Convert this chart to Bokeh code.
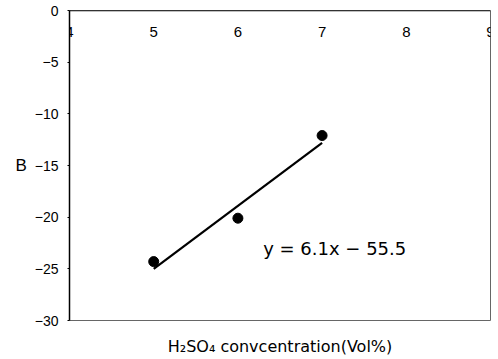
from bokeh.plotting import figure
from bokeh.models import LinearAxis, Range1d, FixedTicker, Label
from bokeh.embed import file_html
from bokeh.resources import INLINE

# H2SO4 concentration (vol%) and fitted parameter B
conc = [5, 6, 7]
b_values = [-24.3, -20.1, -12.1]
slope = 6.1
intercept = -55.5
x_ticks = [4, 5, 6, 7, 8, 9]
y_ticks = [0, -5, -10, -15, -20, -25, -30]

FONT = "Liberation Sans"

p = figure(width=498, height=359, output_backend="svg", toolbar_location=None,
           x_range=Range1d(4, 9), y_range=Range1d(-30, 0),
           min_border_left=69, min_border_right=8, min_border_top=10, min_border_bottom=39)
p.background_fill_color = "white"
p.border_fill_color = "white"
p.outline_line_color = "#666666"
p.outline_line_width = 1
p.xgrid.visible = False
p.ygrid.visible = False

# bottom axis: only carries the axis title
bx = p.xaxis[0]
bx.ticker = FixedTicker(ticks=[])
bx.axis_line_color = None
bx.major_tick_line_color = None
bx.minor_tick_line_color = None
bx.major_tick_out = 0
bx.major_label_standoff = 0
bx.axis_label = "H\u2082SO\u2084 convcentration(Vol%)"
bx.axis_label_text_font = "DejaVu Sans"
bx.axis_label_text_font_size = "16px"
bx.axis_label_text_font_style = "normal"
bx.axis_label_text_color = "black"
bx.axis_label_standoff = 16

# x axis crossing at B = 0 (top edge), labels drawn inside the frame
top_axis = LinearAxis(fixed_location=0, ticker=FixedTicker(ticks=x_ticks))
top_axis.axis_line_color = "black"
top_axis.axis_line_width = 1.5
top_axis.major_tick_in = 0
top_axis.major_tick_out = 0
top_axis.minor_tick_line_color = None
top_axis.major_label_standoff = 16
top_axis.major_label_text_font = FONT
top_axis.major_label_text_font_size = "15px"
top_axis.major_label_text_color = "black"
p.add_layout(top_axis, "below")

ly = p.yaxis[0]
ly.ticker = FixedTicker(ticks=y_ticks)
ly.axis_line_color = "black"
ly.axis_line_width = 1.5
ly.major_tick_in = 0
ly.major_tick_out = 2
ly.minor_tick_line_color = None
ly.major_label_standoff = 9
ly.major_label_text_font = FONT
ly.major_label_text_font_size = "14px"
ly.major_label_text_color = "black"
ly.axis_label = "B"
ly.axis_label_orientation = "horizontal"
ly.axis_label_text_font = FONT
ly.axis_label_text_font_size = "17px"
ly.axis_label_text_font_style = "normal"
ly.axis_label_text_color = "black"
ly.axis_label_standoff = 5

# fitted line over the measured range
fit_x = [min(conc), max(conc)]
fit_y = [slope * x + intercept for x in fit_x]
p.line(fit_x, fit_y, line_color="black", line_width=2.2)
p.scatter(conc, b_values, size=10, fill_color="black", line_color="black")

eq = Label(x=6.3, y=-23.0, text="y = %.1fx  \u2212  %.1f" % (slope, -intercept),
           text_font="DejaVu Sans", text_font_size="18px", text_baseline="middle",
           text_color="black")
p.add_layout(eq)

open("out.html", "w").write(file_html(p, INLINE))
